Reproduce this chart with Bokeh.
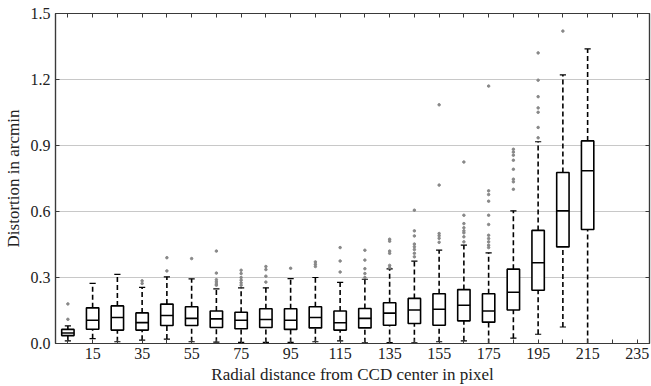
from bokeh.plotting import figure
from bokeh.models import Range1d, LinearAxis, FixedTicker, ColumnDataSource
from bokeh.embed import file_html
from bokeh.resources import INLINE

# ---- data ----
positions = [5, 15, 25, 35, 45, 55, 65, 75, 85, 95, 105, 115, 125, 135, 145, 155, 165, 175, 185, 195, 205, 215]
q1 = [0.036, 0.065, 0.061, 0.061, 0.082, 0.082, 0.073, 0.067, 0.073, 0.064, 0.071, 0.061, 0.071, 0.083, 0.091, 0.083, 0.103, 0.097, 0.152, 0.242, 0.439, 0.518]
med = [0.048, 0.106, 0.118, 0.095, 0.127, 0.114, 0.112, 0.106, 0.109, 0.106, 0.118, 0.094, 0.114, 0.138, 0.152, 0.156, 0.174, 0.148, 0.233, 0.367, 0.603, 0.785]
q3 = [0.064, 0.162, 0.171, 0.139, 0.179, 0.167, 0.148, 0.142, 0.158, 0.158, 0.167, 0.148, 0.159, 0.185, 0.205, 0.226, 0.245, 0.226, 0.338, 0.514, 0.777, 0.921]
lo = [0.012, 0.022, 0.008, 0.015, 0.020, 0.008, 0.006, 0.005, 0.005, 0.005, 0.008, 0.012, 0.003, 0.004, 0.003, 0.008, 0.012, 0.0, 0.024, 0.042, 0.075, 0.0]
hi = [0.080, 0.273, 0.314, 0.255, 0.303, 0.294, 0.248, 0.253, 0.253, 0.295, 0.300, 0.278, 0.292, 0.339, 0.374, 0.424, 0.447, 0.412, 0.603, 0.917, 1.221, 1.339]
outliers = [
    [0.18, 0.11],
    [],
    [],
    [0.285, 0.273],
    [0.39, 0.33],
    [0.386],
    [0.42, 0.32, 0.29, 0.28, 0.27, 0.265],
    [0.333, 0.318, 0.30, 0.288, 0.276, 0.265],
    [0.35, 0.336, 0.306, 0.279],
    [0.342],
    [0.371, 0.36, 0.35],
    [0.436, 0.375, 0.325],
    [0.424, 0.379, 0.34, 0.318, 0.30],
    [0.474, 0.465, 0.42, 0.41, 0.355, 0.345],
    [0.606, 0.512, 0.489, 0.452, 0.44, 0.427, 0.41, 0.394],
    [1.085, 0.72, 0.50, 0.49, 0.478, 0.46],
    [0.825, 0.583, 0.545, 0.526, 0.512, 0.503, 0.485, 0.462],
    [1.17, 0.694, 0.677, 0.647, 0.583, 0.541, 0.492, 0.477, 0.462, 0.447, 0.436],
    [0.883, 0.87, 0.856, 0.833, 0.792, 0.747, 0.735, 0.701],
    [1.321, 1.197, 1.122, 1.071, 1.051, 0.982, 0.935],
    [1.42],
    [],
]
x_tick_labels = [15, 35, 55, 75, 95, 115, 135, 155, 175, 195, 215, 235]
x_minor_ticks = [5, 25, 45, 65, 85, 105, 125, 145, 165, 185, 205, 225]
y_ticks = [0.0, 0.3, 0.6, 0.9, 1.2, 1.5]

BOX_W = 5.0
CAP_W = 2.5
FONT = "Liberation Serif"
SPINE = "#3a3a3a"

p = figure(width=651, height=386, output_backend="svg", toolbar_location=None,
           x_range=Range1d(0, 240), y_range=Range1d(0, 1.5),
           min_border_left=51, min_border_right=2, min_border_top=13, min_border_bottom=43)
p.background_fill_color = "white"
p.border_fill_color = "white"
p.outline_line_color = SPINE
p.outline_line_width = 1.2
p.xgrid.visible = False
p.ygrid.ticker = FixedTicker(ticks=y_ticks)
p.ygrid.grid_line_color = "#c8c8c8"
p.ygrid.grid_line_width = 1

# bottom axis
xa = p.xaxis[0]
xa.ticker = FixedTicker(ticks=x_tick_labels, minor_ticks=x_minor_ticks)
xa.axis_label = "Radial distance from CCD center in pixel"
# left axis
ya = p.yaxis[0]
ya.ticker = FixedTicker(ticks=y_ticks)
ya.axis_label = "Distortion in arcmin"
ya.major_label_overrides = {t: f"{t:.1f}" for t in y_ticks}

for ax in (xa, ya):
    ax.axis_line_color = SPINE
    ax.axis_line_width = 1.2
    ax.major_tick_in = 4
    ax.major_tick_out = 0
    ax.minor_tick_in = 4
    ax.minor_tick_out = 0
    ax.major_tick_line_color = SPINE
    ax.minor_tick_line_color = SPINE
    ax.major_label_text_font = FONT
    ax.major_label_text_font_size = "16px"
    ax.major_label_text_color = "#222222"
    ax.axis_label_text_font = FONT
    ax.axis_label_text_font_size = "17px"
    ax.axis_label_text_font_style = "normal"
    ax.axis_label_text_color = "#222222"
ya.minor_tick_in = 0
xa.major_label_standoff = 4
xa.axis_label_standoff = 3
ya.major_label_standoff = 5
ya.axis_label_standoff = 5

# top and right axes: ticks only
top = LinearAxis(ticker=FixedTicker(ticks=sorted(x_tick_labels + x_minor_ticks)))
top.major_label_overrides = {t: "" for t in sorted(x_tick_labels + x_minor_ticks)}
right = LinearAxis(ticker=FixedTicker(ticks=y_ticks))
right.major_label_overrides = {t: "" for t in y_ticks}
for ax in (top, right):
    ax.axis_line_color = SPINE
    ax.axis_line_width = 1.2
    ax.major_tick_in = 4
    ax.major_tick_out = 0
    ax.minor_tick_in = 0
    ax.minor_tick_out = 0
    ax.major_tick_line_color = SPINE
    ax.major_label_standoff = 0
    ax.major_label_text_font_size = "1px"
p.add_layout(top, "above")
p.add_layout(right, "right")

# ---- boxes ----
src = ColumnDataSource(dict(
    x=positions, q1=q1, med=med, q3=q3, lo=lo, hi=hi,
    left=[x - BOX_W / 2 for x in positions], right=[x + BOX_W / 2 for x in positions],
    cl=[x - CAP_W / 2 for x in positions], cr=[x + CAP_W / 2 for x in positions],
))

# whiskers (dashed)
p.segment(x0="x", y0="q3", x1="x", y1="hi", source=src, line_color="black", line_width=1.6, line_dash="5 3")
p.segment(x0="x", y0="lo", x1="x", y1="q1", source=src, line_color="black", line_width=1.6, line_dash="5 3")
# caps
p.segment(x0="cl", y0="hi", x1="cr", y1="hi", source=src, line_color="black", line_width=1.2)
p.segment(x0="cl", y0="lo", x1="cr", y1="lo", source=src, line_color="black", line_width=1.2)
# boxes
p.quad(left="left", right="right", bottom="q1", top="q3", source=src,
       fill_color="white", line_color="black", line_width=1.6)
# medians
p.segment(x0="left", y0="med", x1="right", y1="med", source=src, line_color="black", line_width=1.6)

# outliers
ox, oy = [], []
for x, vals in zip(positions, outliers):
    for v in vals:
        ox.append(x)
        oy.append(v)
p.scatter(ox, oy, size=2.5, fill_color="#888888", line_color="#888888", marker="circle")

open("out.html", "w").write(file_html(p, INLINE))
